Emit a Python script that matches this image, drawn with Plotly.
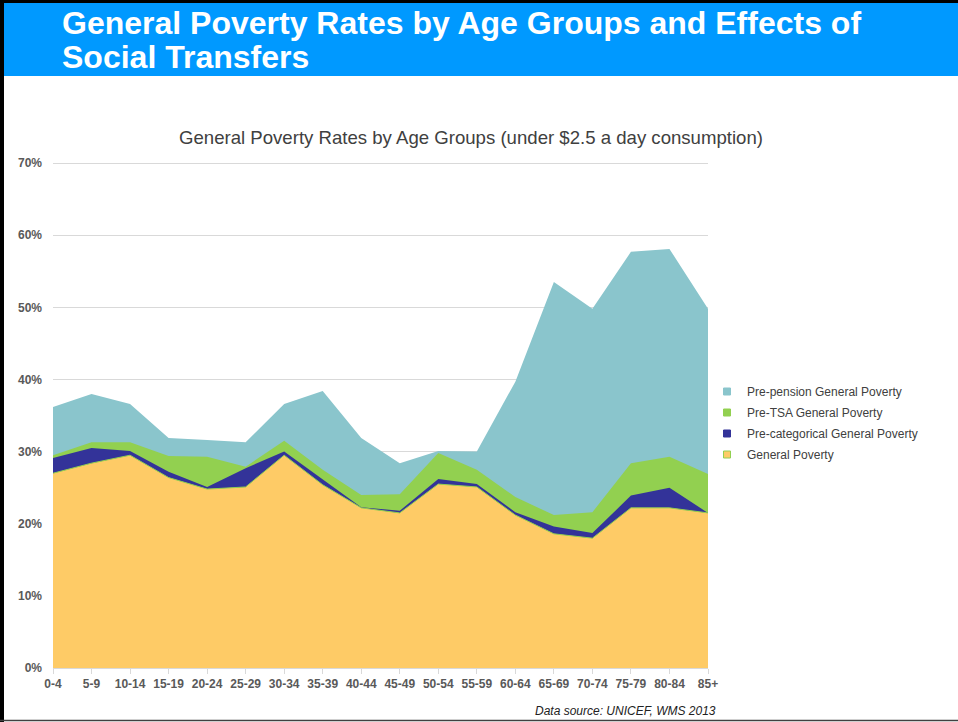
import plotly.graph_objects as go

# Age groups on the horizontal axis
age_groups = ["0-4", "5-9", "10-14", "15-19", "20-24", "25-29", "30-34", "35-39",
              "40-44", "45-49", "50-54", "55-59", "60-64", "65-69", "70-74",
              "75-79", "80-84", "85+"]

# Poverty rates (%) under $2.5 a day consumption
pre_pension = [36.2, 38.0, 36.6, 31.9, 31.6, 31.3, 36.6, 38.4, 31.9, 28.4,
               30.1, 30.0, 39.7, 53.5, 49.8, 57.7, 58.1, 49.8]
pre_tsa = [29.5, 31.3, 31.3, 29.4, 29.3, 27.9, 31.5, 27.5, 24.0, 24.1,
           29.8, 27.5, 23.7, 21.2, 21.6, 28.4, 29.3, 26.9]
pre_categorical = [29.1, 30.5, 30.1, 27.2, 25.1, 27.7, 30.0, 26.2, 22.3, 21.8,
                   26.2, 25.5, 21.6, 19.6, 18.7, 23.9, 25.0, 21.5]
general = [27.0, 28.4, 29.5, 26.4, 24.8, 25.1, 29.5, 25.4, 22.2, 21.5,
           25.5, 25.1, 21.2, 18.6, 18.0, 22.2, 22.2, 21.5]

y_ticks = [0, 10, 20, 30, 40, 50, 60, 70]
y_tick_labels = ["0%", "10%", "20%", "30%", "40%", "50%", "60%", "70%"]

series = [
    ("Pre-pension General Poverty", pre_pension, "#8AC5CC", None),
    ("Pre-TSA General Poverty", pre_tsa, "#92D050", None),
    ("Pre-categorical General Poverty", pre_categorical, "#333399", None),
    ("General Poverty", general, "#FECB66", "#92D050"),
]

W, H = 958, 722
L, R, T, B = 53, 708, 162, 668   # plot area in pixels


def px_x(p):
    return (p - L) / (R - L)


def px_y(p):
    return (B - p) / (B - T)


fig = go.Figure()

# Overlapping areas, back to front
for name, vals, color, edge in series:
    fig.add_trace(go.Scatter(
        x=age_groups, y=vals, mode="lines", fill="tozeroy",
        fillcolor=color,
        line=dict(color=edge if edge else color, width=1 if edge else 0),
        showlegend=False, hoverinfo="x+y+name", name=name,
    ))

# Small square legend keys
for i, (name, vals, color, edge) in enumerate(series):
    fig.add_trace(go.Scatter(
        x=[None], y=[None], mode="markers", name=name,
        legendgroup=f"g{i}",
        marker=dict(symbol="square", size=7, color=color,
                    line=dict(color=edge if edge else color, width=1)),
    ))

shapes = [
    # blue header band
    dict(type="rect", xref="paper", yref="paper",
         x0=px_x(4), x1=px_x(W + 2), y0=px_y(76), y1=px_y(3),
         fillcolor="#0099FF", line=dict(width=0), layer="below"),
    # slide frame
    dict(type="rect", xref="paper", yref="paper",
         x0=px_x(-2), x1=px_x(4), y0=px_y(H + 2), y1=px_y(-2),
         fillcolor="#000000", line=dict(width=0), layer="below"),
    dict(type="rect", xref="paper", yref="paper",
         x0=px_x(-2), x1=px_x(W + 2), y0=px_y(3), y1=px_y(-2),
         fillcolor="#000000", line=dict(width=0), layer="below"),
    dict(type="line", xref="paper", yref="paper",
         x0=px_x(0), x1=px_x(W + 2), y0=px_y(720.5), y1=px_y(720.5),
         line=dict(color="#404040", width=1.5)),
]

title_font = dict(family="Liberation Sans", size=32, color="white", weight="bold")
annotations = [
    dict(text="General Poverty Rates by Age Groups and Effects of",
         xref="paper", yref="paper", x=px_x(60), y=px_y(23),
         xanchor="left", yanchor="middle", showarrow=False, font=title_font),
    dict(text="Social Transfers",
         xref="paper", yref="paper", x=px_x(60), y=px_y(57),
         xanchor="left", yanchor="middle", showarrow=False, font=title_font),
    dict(text="General Poverty Rates by Age Groups (under $2.5 a day consumption)",
         xref="paper", yref="paper", x=px_x(470.5), y=px_y(137),
         xanchor="center", yanchor="middle", showarrow=False,
         font=dict(family="Liberation Sans", size=18.6, color="#404040")),
    dict(text="<i>Data source: UNICEF, WMS 2013</i>",
         xref="paper", yref="paper", x=px_x(718), y=px_y(711),
         xanchor="right", yanchor="middle", showarrow=False,
         font=dict(family="Liberation Sans", size=12, color="#222222")),
]

fig.update_layout(
    width=W, height=H,
    margin=dict(l=L, r=W - R, t=T, b=H - B, pad=0),
    paper_bgcolor="white", plot_bgcolor="white",
    font=dict(family="Liberation Sans", size=12, color="#595959"),
    shapes=shapes, annotations=annotations,
    legend=dict(x=px_x(707), y=px_y(377), xanchor="left", yanchor="top",
                font=dict(size=12, color="#404040"),
                tracegroupgap=2, bgcolor="rgba(0,0,0,0)"),
    xaxis=dict(type="category", range=[0, len(age_groups) - 1],
               showgrid=False, showline=True, linecolor="#D9D9D9", linewidth=1,
               ticks="outside", ticklen=5, tickcolor="#D9D9D9",
               tickfont=dict(size=12, color="#595959", weight="bold")),
    yaxis=dict(range=[0, 70.15], tickvals=y_ticks, ticktext=y_tick_labels,
               showgrid=True, gridcolor="#D9D9D9", gridwidth=1,
               zeroline=False, ticks="", ticklabelstandoff=10,
               tickfont=dict(size=12, color="#595959", weight="bold")),
)

fig.write_html("out.html")
